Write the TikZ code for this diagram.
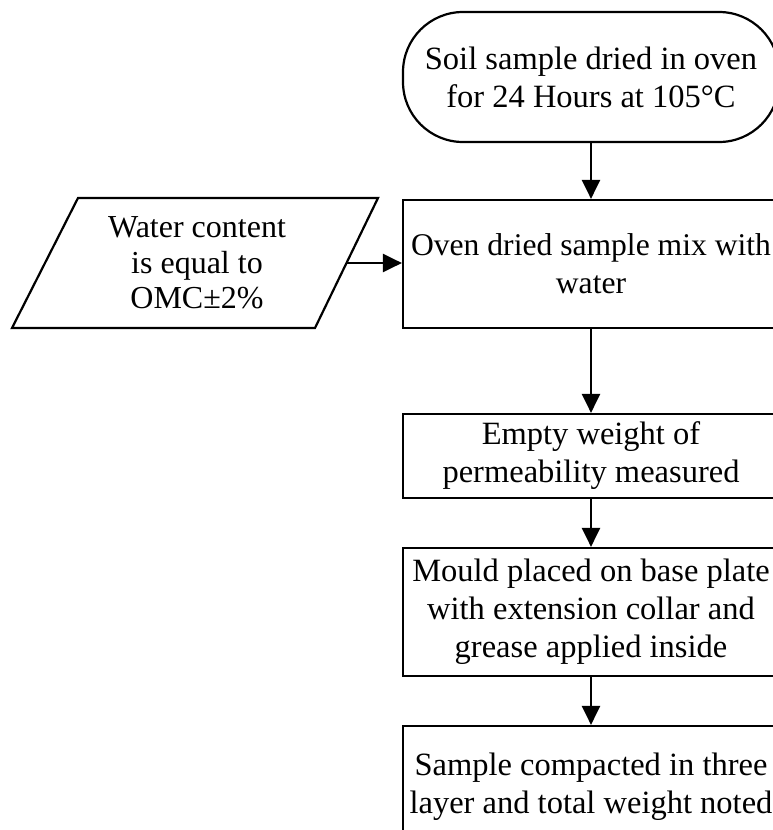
\documentclass[tikz,border=0pt]{standalone}
\usepackage{fontspec}
\setmainfont{Liberation Serif}
\usetikzlibrary{arrows.meta,calc}
\begin{document}
\begin{tikzpicture}[x=1pt,y=-1pt,
  line width=2.2pt,
  txt/.style={align=center,font=\fontsize{32.5}{38}\selectfont,inner sep=0pt},
  ptxt/.style={align=center,font=\fontsize{32}{35.5}\selectfont,inner sep=0pt},
  procbox/.style={txt,draw,minimum width=376pt},
  term/.style={txt,draw,minimum width=376pt,minimum height=130pt,rounded corners=60pt},
  flow/.style={-{Triangle[length=19pt,width=18pt]},line width=2.5pt}]
\useasboundingbox (0,0) rectangle (773,830);
\clip (0,0) rectangle (773,830);
\fill[white] (0,0) rectangle (773,830);

\node[term] (t) at (591,77) {Soil sample dried in oven\\for 24 Hours at 105°C};
\node[procbox,minimum height=128pt,font=\fontsize{31.6}{38}\selectfont] (b2) at (591,264) {Oven dried sample mix with\\water};
\node[procbox,minimum height=84pt] (b3) at (591,456) {Empty weight of\\permeability measured};
\node[procbox,minimum height=128pt] (b4) at (591,612) {Mould placed on base plate\\with extension collar and\\grease applied inside};
\node[procbox,minimum height=122pt] (b5) at (591,787) {Sample compacted in three\\layer and total weight noted};

\node[ptxt] (w) at (197,263) {Water content\\is equal to\\OMC±2\%};
\coordinate (p1) at (78,198);
\coordinate (p2) at (378,198);
\coordinate (p3) at (315,328);
\coordinate (p4) at (12,328);
\coordinate (wR) at ($(p2)!0.5!(p3)$);
\draw[line join=miter] (p1) -- (p2) -- (p3) -- (p4) -- cycle;

\draw[flow] (t.south) -- (b2.north);
\draw[flow] (b2.south) -- (b3.north);
\draw[flow] (b3.south) -- (b4.north);
\draw[flow] (b4.south) -- (b5.north);
\draw[flow] (wR) -- (wR -| b2.west);
\end{tikzpicture}
\end{document}
